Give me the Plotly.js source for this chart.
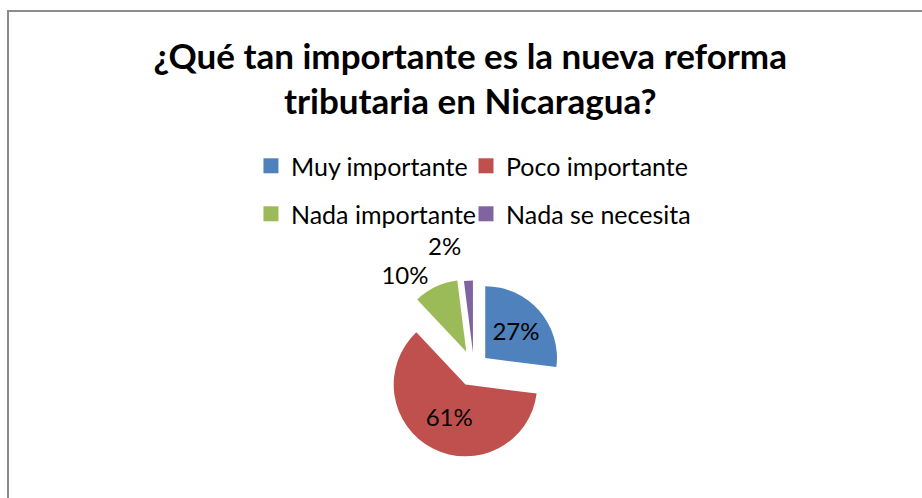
<!DOCTYPE html>
<html>
<head>
<meta charset="utf-8">
<script src="https://cdn.plot.ly/plotly-3.0.1.min.js"></script>
<style>
html,body{margin:0;padding:0;background:#fff;}
#chart{width:922px;height:498px;}
</style>
</head>
<body>
<div id="chart"></div>
<script>
const categories = ["Muy importante", "Poco importante", "Nada importante", "Nada se necesita"];
const values = [27, 61, 10, 2];
const colors = ["#4F81BD", "#C0504D", "#9BBB59", "#8064A2"];
const pulls = [0.21, 0.26, 0.25, 0.22];
const textPositions = ["inside", "inside", "outside", "outside"];
const titleText = "¿Qué tan importante es la nueva reforma<br>tributaria en Nicaragua?";

const font = "Lato, 'Open Sans', sans-serif";

// main pie (drawn); its legend entries are laid out in a 2x2 grid
const mainPie = {
  type: "pie",
  labels: categories,
  values: values,
  sort: false,
  direction: "clockwise",
  rotation: 0,
  pull: pulls,
  marker: {colors: colors, line: {width: 0}},
  textinfo: "percent",
  textposition: textPositions,
  insidetextorientation: "horizontal",
  textfont: {family: font, size: 24, color: "#000"},
  domain: {x: [0.278, 0.655], y: [0.058, 0.593]},
  hoverinfo: "none",
  showlegend: false
};

const legendNames = ["legend", "legend2", "legend3", "legend4"];

function legendPie(i) {
  return {
    type: "pie",
    labels: [categories[i]],
    values: [values[i]],
    marker: {colors: [colors[i]], line: {width: 0}},
    textinfo: "none",
    hoverinfo: "none",
    domain: {x: [0, 0.0001], y: [0, 0.0001]},
    legend: legendNames[i],
    showlegend: true
  };
}

const data = [mainPie].concat(categories.map((c, i) => legendPie(i)));

function legendBox(x, y) {
  return {
    orientation: "h",
    xanchor: "left", x: x,
    yanchor: "top", y: y,
    font: {family: font, size: 25, color: "#000"},
    bgcolor: "rgba(0,0,0,0)"
  };
}

const layout = {
  width: 922,
  height: 498,
  paper_bgcolor: "#fff",
  plot_bgcolor: "#fff",
  margin: {l: 250, r: 192, t: 140, b: 20},
  font: {family: font, color: "#000"},
  title: {
    text: titleText,
    font: {family: font, size: 35, weight: "bold", color: "#000"},
    x: 0.51, xanchor: "center",
    y: 0.862, yanchor: "middle"
  },
  showlegend: true,
  legend: legendBox(0.002, 0.991),
  legend2: legendBox(0.45, 0.991),
  legend3: legendBox(0.002, 0.849),
  legend4: legendBox(0.45, 0.849)
};

function tidy(gd) {
  // Excel-style: no leader lines, slightly larger square swatches
  gd.querySelectorAll("path.textline").forEach(p => p.style.display = "none");
  gd.querySelectorAll(".legendpoints path").forEach(p => p.setAttribute("d", "M7.5,7.5H-7.5V-7.5H7.5Z"));
}

Plotly.newPlot("chart", data, layout, {displayModeBar: false, staticPlot: true}).then(function (gd) {
  tidy(gd);
  setTimeout(function () { tidy(gd); }, 50);
});
</script>
<div style="position:absolute;left:7px;top:10px;width:930px;height:500px;border-left:2px solid #8c8c8c;border-top:2px solid #8c8c8c;pointer-events:none;"></div>
</body>
</html>
